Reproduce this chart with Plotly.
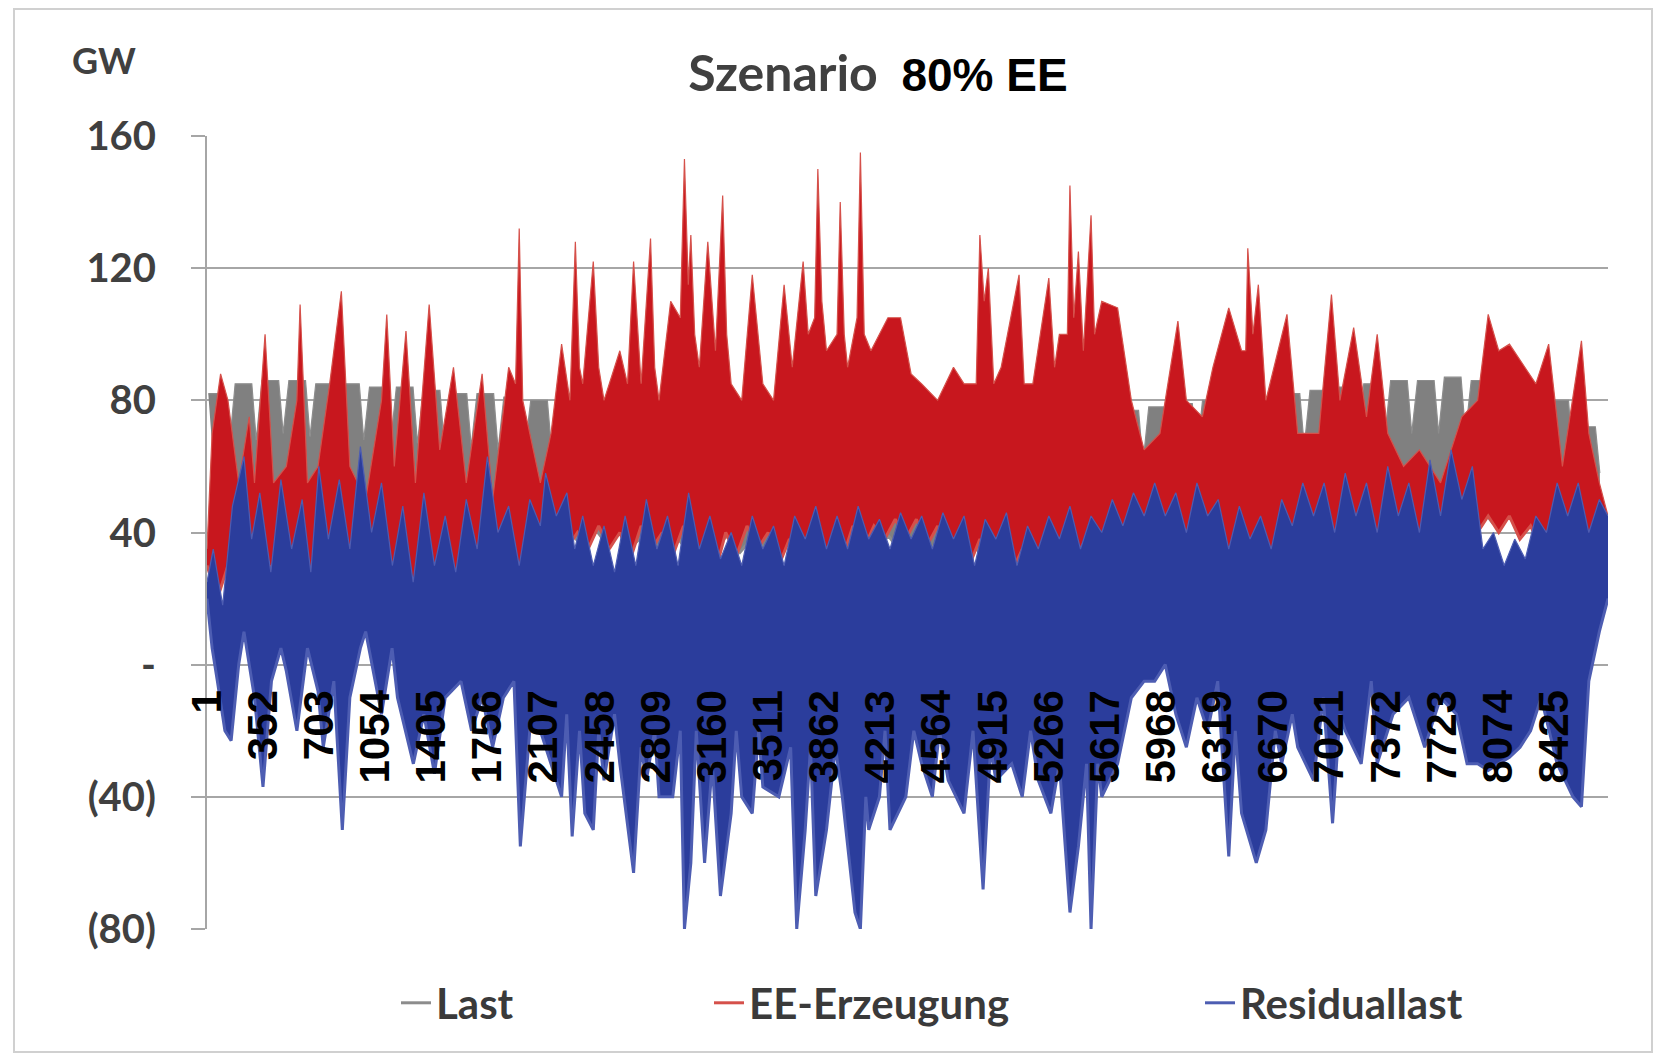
import plotly.graph_objects as go

# ---------------- data ----------------
tick_hours = [1, 352, 703, 1054, 1405, 1756, 2107, 2458, 2809, 3160, 3511, 3862, 4213,
              4564, 4915, 5266, 5617, 5968, 6319, 6670, 7021, 7372, 7723, 8074, 8425]
tick_text = [str(h) for h in tick_hours]
y_ticks = [-80, -40, 0, 40, 80, 120, 160]
y_text = ["(80)", "(40)", "-", "40", "80", "120", "160"]

# Last (load): weekly weekday plateau / weekend dip / weekday night low / weekend low (GW)
last_peak = [82, 85, 86, 86, 85, 85, 84, 84, 83, 82, 82, 81, 80,
             78, 78, 77, 76, 76, 75, 75, 74, 74, 75, 75, 74, 74,
             74, 74, 73, 73, 74, 74, 75, 76, 77, 78, 79, 80, 80,
             81, 82, 83, 84, 85, 86, 86, 87, 86, 85, 84, 80, 72]
last_dip = [66, 68, 70, 69, 68, 68, 67, 67, 66, 66, 65, 65, 64,
            62, 62, 61, 60, 60, 60, 59, 58, 58, 59, 59, 58, 58,
            58, 58, 57, 57, 58, 58, 59, 60, 61, 62, 63, 64, 64,
            65, 66, 67, 68, 69, 70, 70, 70, 70, 68, 67, 62, 58]
last_low = [48, 47, 48, 48, 47, 47, 46, 46, 45, 45, 44, 44, 43,
            42, 42, 41, 40, 40, 40, 39, 39, 39, 40, 40, 39, 39,
            39, 39, 38, 38, 39, 39, 40, 41, 41, 42, 43, 44, 44,
            45, 46, 46, 47, 47, 48, 48, 48, 48, 47, 46, 44, 40]
last_wlow = [43, 42, 43, 43, 42, 42, 41, 41, 40, 40, 39, 39, 38,
             37, 37, 36, 35, 35, 35, 34, 34, 34, 35, 35, 34, 34,
             34, 34, 33, 33, 34, 34, 35, 36, 36, 37, 38, 39, 39,
             40, 41, 41, 42, 42, 43, 43, 43, 43, 42, 41, 39, 36]

# EE-Erzeugung upper envelope (hour, GW)
ee_hi_hours = [1, 33, 86, 132, 199, 265, 298, 351, 364, 417, 497, 563, 583, 629, 695, 768, 841, 894, 993,
               1092, 1125, 1172, 1245, 1304, 1390, 1456, 1542, 1622, 1721, 1787, 1887, 1930, 1953, 1975,
               2019, 2085, 2152, 2218, 2270, 2304, 2330, 2350, 2416, 2450, 2483, 2582, 2630, 2668, 2715,
               2774, 2800, 2827, 2900, 2960, 2986, 3010, 3026, 3050, 3079, 3132, 3180, 3225, 3250, 3278,
               3344, 3410, 3476, 3543, 3609, 3660, 3728, 3760, 3800, 3820, 3845, 3874, 3940, 3960, 3985,
               4006, 4065, 4086, 4110, 4152, 4258, 4337, 4403, 4469, 4569, 4668, 4734, 4810, 4833, 4860,
               4886, 4920, 4966, 5078, 5110, 5164, 5264, 5300, 5330, 5380, 5396, 5420, 5449, 5480, 5528,
               5550, 5595, 5694, 5780, 5860, 5959, 6071, 6124, 6224, 6290, 6389, 6469, 6495, 6508, 6540,
               6574, 6621, 6753, 6820, 6952, 7031, 7084, 7170, 7250, 7317, 7383, 7482, 7581, 7713, 7846,
               7945, 8011, 8077, 8144, 8243, 8309, 8389, 8475, 8594, 8640, 8706, 8760]
ee_hi_vals = [35, 70, 88, 80, 55, 75, 55, 90, 100, 55, 60, 80, 109, 55, 60, 85, 113, 60, 50,
              80, 106, 60, 101, 55, 109, 65, 90, 55, 88, 50, 90, 85, 132, 80,
              70, 55, 70, 97, 80, 128, 90, 85, 122, 90, 80, 95, 85, 122, 85,
              129, 90, 80, 110, 105, 153, 115, 130, 100, 90, 128, 95, 142, 100, 85,
              80, 118, 85, 80, 115, 90, 122, 100, 105, 150, 110, 95, 100, 140, 100,
              90, 105, 155, 100, 95, 105, 105, 88, 85, 80, 90, 85, 85, 130, 110,
              120, 85, 90, 118, 85, 85, 117, 90, 100, 100, 145, 105, 125, 95, 136,
              100, 110, 108, 80, 65, 70, 104, 80, 75, 90, 108, 95, 95, 126, 100,
              115, 80, 106, 70, 70, 112, 80, 102, 75, 100, 70, 60, 65, 55, 75,
              80, 106, 95, 97, 90, 85, 97, 60, 98, 70, 55, 45]

# EE-Erzeugung lower envelope (hour, GW)
ee_lo_hours = [1, 66, 132, 199, 265, 331, 400, 463, 530, 596, 662, 728, 794, 860, 926, 993, 1060, 1125,
               1190, 1257, 1324, 1390, 1456, 1523, 1589, 1655, 1721, 1787, 1854, 1920, 1987, 2053, 2119,
               2185, 2251, 2317, 2383, 2450, 2516, 2582, 2648, 2715, 2781, 2847, 2913, 2980, 3046, 3112,
               3178, 3244, 3311, 3377, 3443, 3509, 3576, 3642, 3708, 3774, 3840, 3907, 3973, 4039, 4105,
               4171, 4238, 4304, 4370, 4436, 4502, 4569, 4635, 4701, 4767, 4833, 4900, 4966, 5032, 5098,
               5164, 5230, 5297, 5363, 5429, 5495, 5561, 5628, 5694, 5760, 5826, 5892, 5959, 6025, 6091,
               6157, 6223, 6290, 6356, 6422, 6488, 6554, 6621, 6687, 6753, 6819, 6885, 6952, 7018, 7084,
               7150, 7216, 7282, 7349, 7415, 7481, 7547, 7613, 7680, 7746, 7812, 7878, 7944, 8011, 8077,
               8143, 8209, 8276, 8342, 8408, 8474, 8541, 8607, 8673, 8739, 8760]
ee_lo_vals = [30, 20, 30, 15, 35, 20, 30, 15, 25, 18, 30, 18, 25, 15, 25, 15, 22, 18,
              30, 15, 25, 17, 28, 20, 25, 18, 30, 20, 25, 18, 35, 22, 30,
              20, 35, 40, 35, 42, 35, 40, 32, 42, 35, 40, 33, 42, 30, 38,
              28, 40, 33, 42, 35, 40, 30, 38, 33, 40, 30, 38, 32, 42, 35,
              42, 38, 44, 38, 44, 36, 42, 32, 40, 30, 38, 32, 38, 28, 35,
              30, 35, 30, 38, 32, 38, 30, 35, 28, 32, 25, 30, 25, 32, 25,
              30, 22, 28, 22, 30, 20, 28, 20, 25, 18, 25, 20, 25, 18, 25,
              17, 22, 16, 22, 15, 22, 15, 20, 16, 22, 17, 30, 40, 45, 40,
              45, 38, 42, 35, 38, 25, 30, 20, 25, 18, 25]

# Residuallast upper envelope (hour, GW)
res_hi_hours = [1, 40, 99, 160, 232, 280, 331, 400, 463, 530, 596, 650, 700, 760, 828, 894, 960, 1030,
                1092, 1160, 1225, 1290, 1357, 1423, 1490, 1556, 1622, 1690, 1754, 1820, 1887, 1953, 2019,
                2085, 2118, 2185, 2251, 2300, 2350, 2416, 2483, 2549, 2615, 2682, 2748, 2814, 2880, 2946,
                3012, 3079, 3145, 3211, 3278, 3344, 3410, 3476, 3543, 3609, 3675, 3741, 3807, 3874, 3940,
                4006, 4072, 4138, 4205, 4271, 4337, 4403, 4469, 4536, 4602, 4668, 4734, 4800, 4866, 4933,
                4999, 5065, 5131, 5198, 5264, 5330, 5396, 5462, 5528, 5595, 5661, 5727, 5793, 5860, 5926,
                5992, 6058, 6124, 6190, 6257, 6323, 6389, 6455, 6522, 6588, 6654, 6720, 6786, 6852, 6919,
                6985, 7051, 7117, 7184, 7250, 7317, 7383, 7449, 7515, 7581, 7647, 7713, 7779, 7846, 7912,
                7978, 8044, 8111, 8177, 8243, 8309, 8375, 8442, 8508, 8574, 8640, 8706, 8760]
res_hi_vals = [25, 35, 18, 48, 63, 38, 52, 28, 56, 35, 50, 28, 60, 38, 56, 35, 66, 40,
               55, 30, 48, 25, 52, 30, 45, 28, 50, 35, 63, 40, 48, 30, 50,
               42, 58, 45, 52, 35, 45, 30, 42, 28, 45, 30, 50, 35, 45, 30,
               52, 35, 45, 32, 40, 30, 45, 35, 42, 30, 45, 38, 48, 35, 45,
               35, 48, 38, 44, 35, 46, 38, 45, 35, 46, 38, 45, 30, 44, 38,
               46, 30, 42, 35, 45, 38, 48, 35, 45, 40, 50, 42, 52, 45, 55,
               45, 52, 40, 55, 45, 50, 35, 48, 38, 45, 35, 50, 42, 55, 45,
               55, 40, 58, 45, 55, 40, 60, 45, 55, 40, 62, 45, 65, 50, 60,
               35, 40, 30, 38, 32, 45, 40, 55, 45, 55, 40, 50, 45]

# Residuallast lower envelope (hour, GW)
res_lo_hours = [1, 33, 66, 113, 152, 199, 232, 298, 351, 404, 463, 497, 563, 629, 695, 728, 794, 847, 894,
                960, 993, 1092, 1158, 1192, 1291, 1357, 1423, 1490, 1589, 1655, 1721, 1787, 1854, 1920,
                1960, 2019, 2085, 2152, 2218, 2250, 2284, 2330, 2363, 2416, 2450, 2483, 2549, 2582, 2668,
                2715, 2748, 2800, 2827, 2913, 2960, 2986, 3026, 3060, 3112, 3160, 3211, 3278, 3310, 3344,
                3410, 3450, 3476, 3576, 3650, 3688, 3741, 3774, 3807, 3874, 3930, 3973, 4052, 4086, 4120,
                4138, 4205, 4240, 4271, 4370, 4420, 4469, 4536, 4580, 4635, 4734, 4790, 4853, 4900, 4933,
                5032, 5098, 5150, 5198, 5277, 5330, 5396, 5449, 5500, 5528, 5570, 5595, 5694, 5780, 5860,
                5926, 5992, 6058, 6124, 6190, 6257, 6320, 6389, 6430, 6469, 6561, 6621, 6680, 6720, 6786,
                6820, 6919, 6980, 7038, 7084, 7117, 7217, 7280, 7317, 7416, 7515, 7614, 7713, 7812, 7879,
                7945, 8011, 8077, 8144, 8210, 8276, 8342, 8442, 8541, 8594, 8640, 8706, 8760]
res_lo_vals = [20, 5, -5, -20, -23, 0, 10, -10, -37, -5, 5, -2, -20, 5, -8, -25, -5, -50, -10,
               5, 10, -15, 5, -10, -30, -15, -33, -10, -5, -20, -10, -25, -10, -5,
               -55, -20, -20, -30, -40, -15, -52, -20, -45, -50, -20, -35, -15, -30, -63,
               -25, -35, -20, -40, -40, -20, -80, -60, -20, -60, -30, -70, -45, -20, -40,
               -45, -20, -37, -40, -25, -80, -50, -25, -70, -50, -25, -40, -75, -80, -40,
               -50, -40, -20, -50, -40, -20, -30, -40, -20, -35, -45, -20, -68, -25, -35,
               -30, -40, -20, -35, -45, -30, -75, -55, -30, -80, -30, -40, -30, -10, -5,
               -5, 0, -15, -25, -10, -20, -5, -58, -20, -45, -60, -50, -20, -30, -15,
               -25, -35, -10, -48, -15, -20, -30, -5, -30, -15, -10, -25, -10, -15, -30,
               -30, -32, -30, -28, -25, -20, -10, -30, -40, -43, -5, 10, 20]

# ---------------- assemble the weekly load profile ----------------
last_hi_x, last_hi_y, last_lo_x, last_lo_y = [], [], [], []
for w in range(len(last_peak)):
    h0 = 1 + 168 * w
    last_hi_x += [h0 + 8, h0 + 112, h0 + 140]
    last_hi_y += [last_peak[w], last_peak[w], last_dip[w]]
    last_lo_x += [h0 + 60, h0 + 140]
    last_lo_y += [last_low[w], last_wlow[w]]

# ---------------- layout constants (page pixels of the target) ----------------
W, H = 1661, 1059
OFF = 8                      # default page margin of the html body
PX_L, PX_R, PX_T, PX_B = 207, 1608, 136, 929   # plot area in page pixels
FW, FH = W - OFF - 2, H - OFF - 2
ML, MT = PX_L - OFF, PX_T - OFF
MR, MB = FW - (PX_R - OFF), FH - (PX_B - OFF)
PW, PH = PX_R - PX_L, PX_B - PX_T
Y0, Y1 = -80, 160


def px_x(px):
    return (px - PX_L) / PW


def px_y(py):
    return (PX_B - py) / PH


GRID = "#a6a6a6"
fig = go.Figure()


def band(name, lo_x, lo_y, hi_x, hi_y, fill, edge, legend):
    fig.add_trace(go.Scatter(x=lo_x, y=lo_y, mode="lines", name=name, legend=legend,
                             line=dict(color=edge, width=3), hoverinfo="skip"))
    fig.add_trace(go.Scatter(x=hi_x, y=hi_y, mode="lines", fill="tonexty", fillcolor=fill,
                             line=dict(color=edge, width=1.2), showlegend=False, hoverinfo="skip"))


band("Last", last_lo_x, last_lo_y, last_hi_x, last_hi_y, "#808080", "#8c8c8c", "legend")
band("EE-Erzeugung", ee_lo_hours, ee_lo_vals, ee_hi_hours, ee_hi_vals, "#c8171e", "#d5504a", "legend2")
band("Residuallast", res_lo_hours, res_lo_vals, res_hi_hours, res_hi_vals, "#2b3d9c", "#4d5db2", "legend3")

leg_font = dict(family="Lato", size=42, color="#3a3a3a", weight="bold")
leg_common = dict(orientation="h", yanchor="middle", xanchor="left", y=px_y(1003),
                  font=leg_font, bgcolor="rgba(0,0,0,0)", borderwidth=0)

fig.update_layout(
    width=FW, height=FH,
    margin=dict(l=ML, r=MR, t=MT, b=MB),
    paper_bgcolor="white", plot_bgcolor="white",
    title=dict(
        text="<span style='font-size:50px'><b>Szenario</b></span>&nbsp; "
             "<span style='font-family:Liberation Sans;color:#000000'><b>80% EE</b></span>",
        font=dict(family="Lato", size=46, color="#404040"),
        x=(878 - OFF) / FW, xref="container", xanchor="center",
        y=1 - (75 - OFF) / FH, yref="container", yanchor="middle"),
    xaxis=dict(range=[1, 8760], tickmode="array", tickvals=tick_hours, ticktext=tick_text,
               tickangle=-90, anchor="free", position=(0 - Y0) / (Y1 - Y0),
               showgrid=False, zeroline=False, showline=False, ticks="",
               ticklabelstandoff=16,
               tickfont=dict(family="Liberation Sans", size=42, color="#000000", weight="bold")),
    yaxis=dict(range=[Y0, Y1], tickmode="array", tickvals=y_ticks, ticktext=y_text,
               showgrid=True, gridcolor=GRID, gridwidth=2, zeroline=False,
               showline=True, linecolor=GRID, linewidth=2,
               ticks="outside", ticklen=14, tickcolor=GRID, tickwidth=2,
               ticklabelstandoff=27,
               tickfont=dict(family="Lato", size=40, color="#404040", weight="bold")),
    legend=dict(x=px_x(396), **leg_common),
    legend2=dict(x=px_x(709), **leg_common),
    legend3=dict(x=px_x(1200), **leg_common),
    annotations=[dict(text="<b>GW</b>", x=px_x(104), y=px_y(60), xref="paper", yref="paper",
                      showarrow=False, xanchor="center", yanchor="middle",
                      font=dict(family="Lato", size=36, color="#404040"))],
    shapes=[dict(type="rect", xref="paper", yref="paper",
                 x0=px_x(14), x1=px_x(1652), y0=px_y(1052), y1=px_y(9),
                 line=dict(color="#d0d0d0", width=2), layer="below")],
)

fig.write_html("out.html")
